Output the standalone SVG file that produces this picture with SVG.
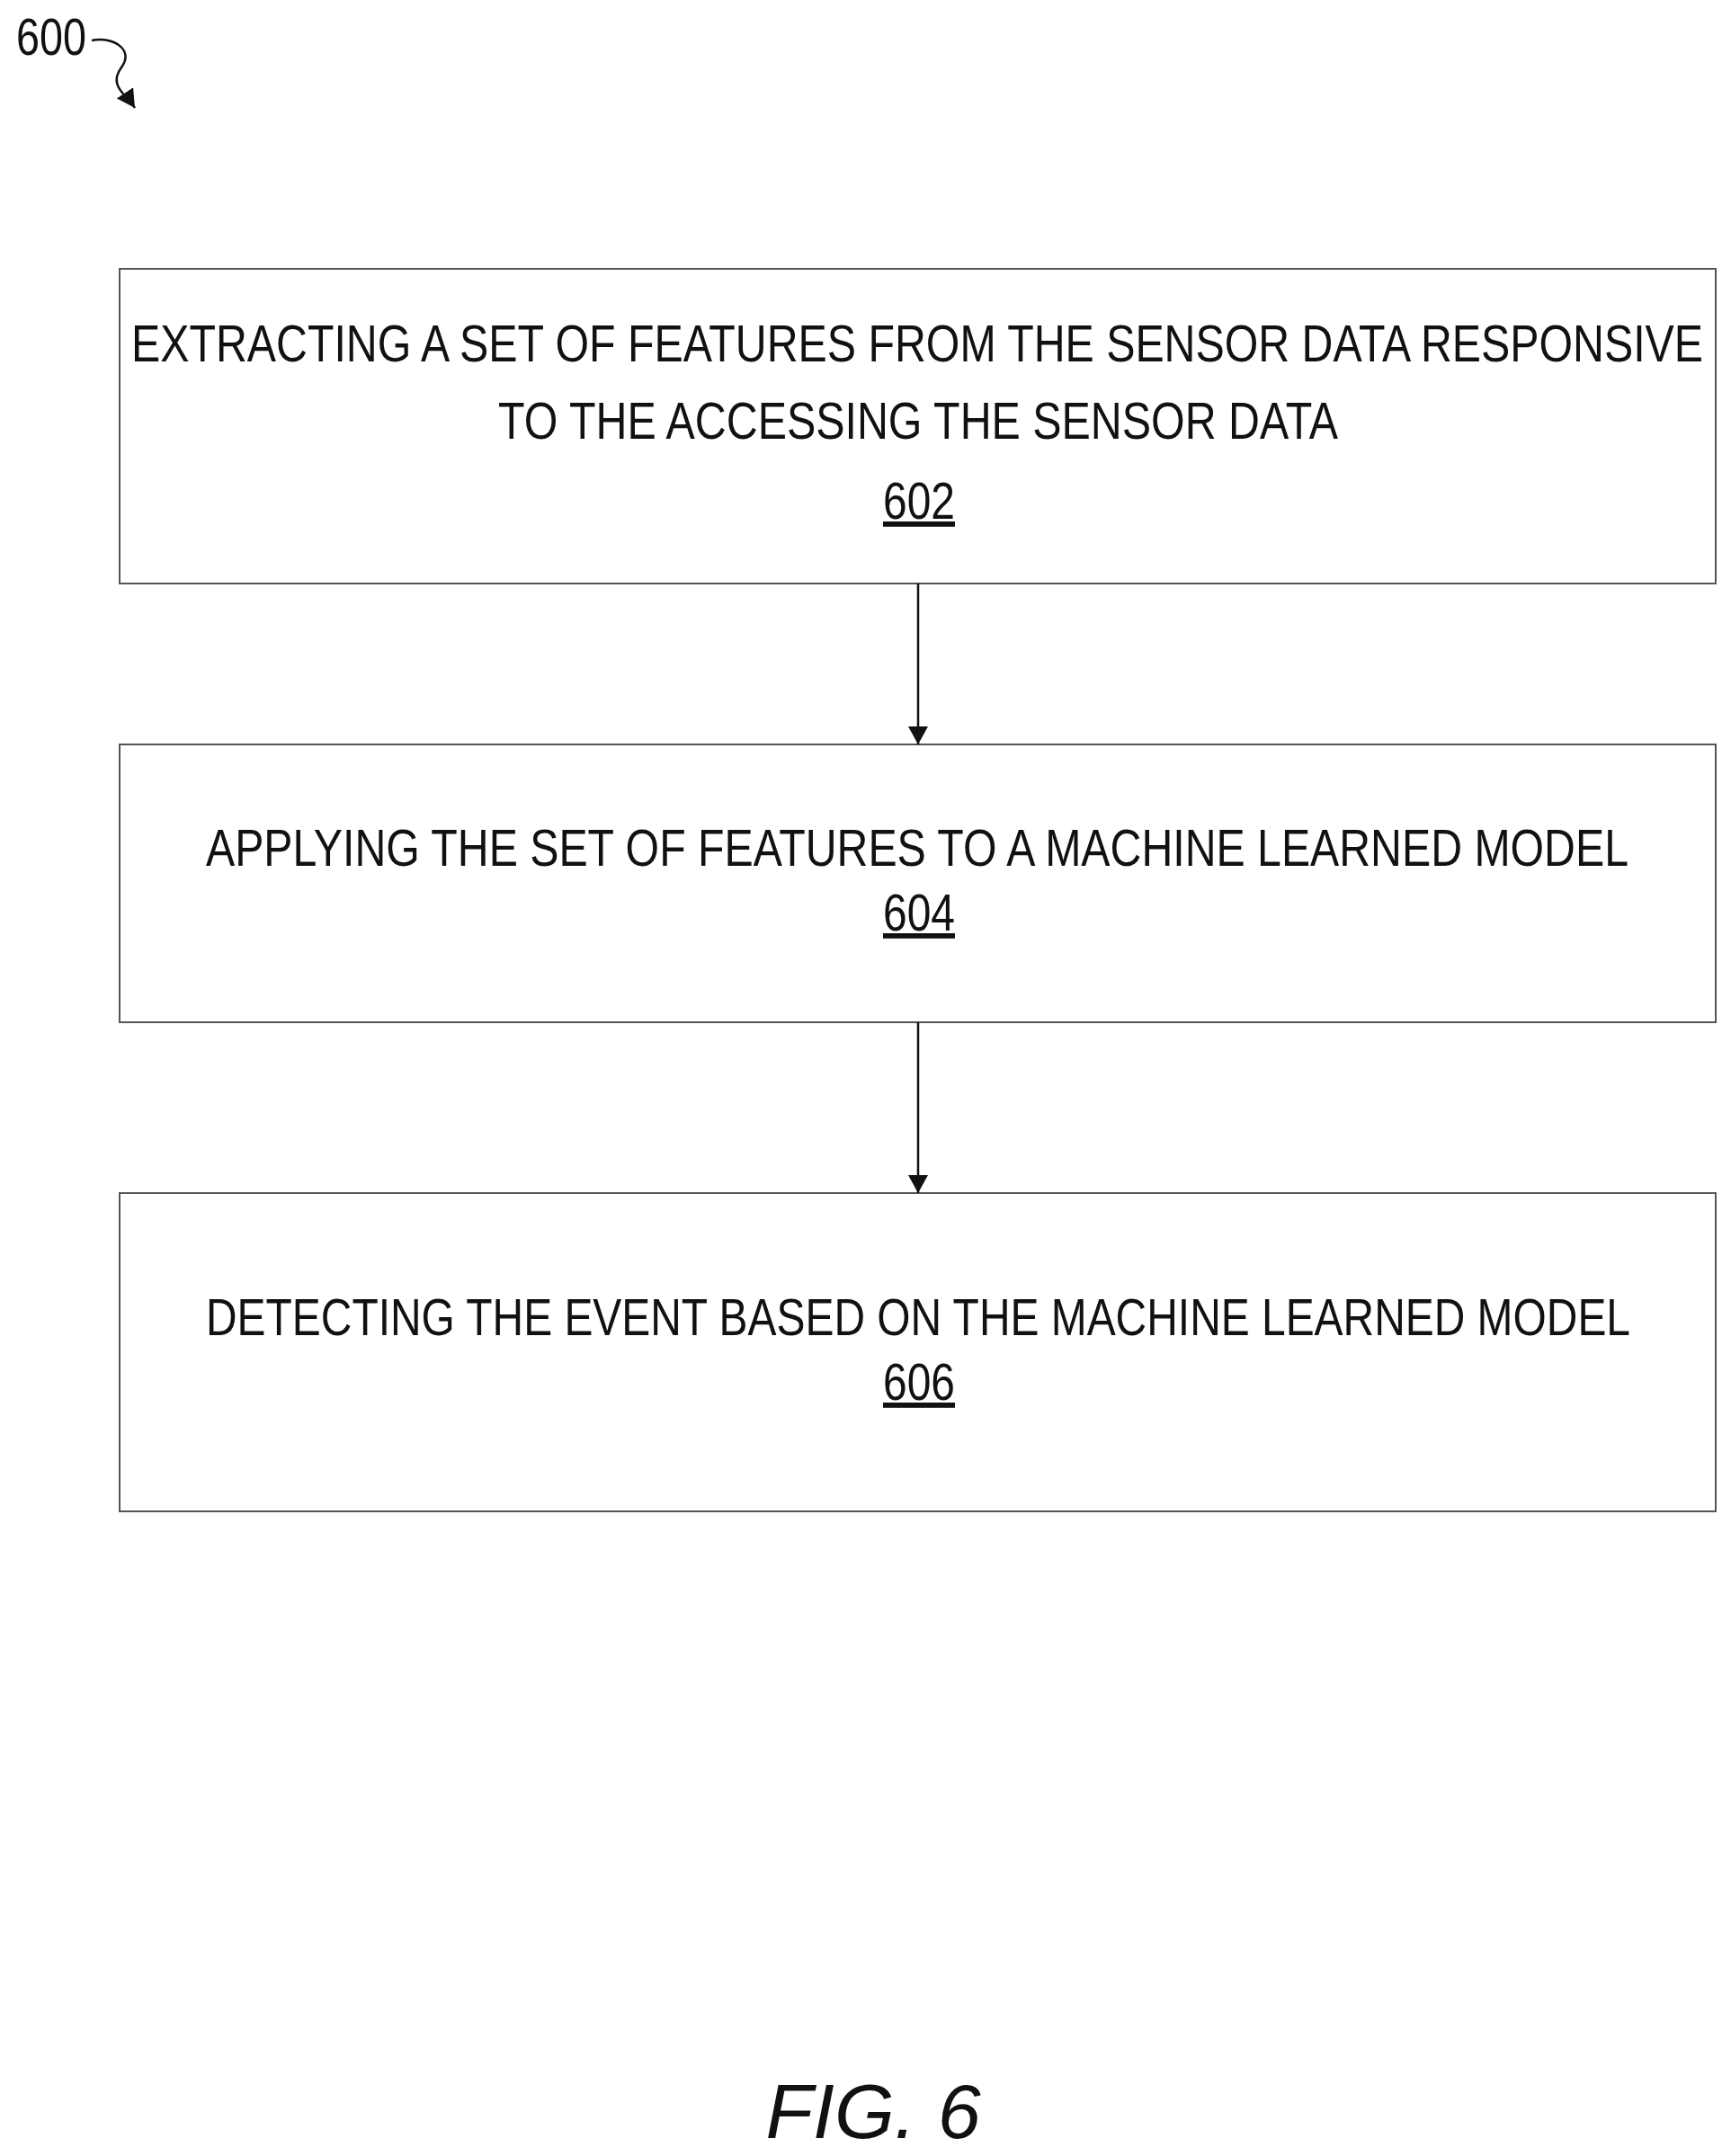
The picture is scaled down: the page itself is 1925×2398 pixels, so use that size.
<svg xmlns="http://www.w3.org/2000/svg" width="1925" height="2398" viewBox="0 0 1925 2398">
<style>
.box{fill:#fff;stroke:#555;stroke-width:2}
.t{font-family:"Liberation Sans",Arial,sans-serif;font-size:58px;fill:#111}
.n{font-family:"Liberation Sans",Arial,sans-serif;font-size:58px;fill:#111;text-decoration:underline}
.c{stroke:#111;stroke-width:2.5;fill:none}
</style>
<defs><marker id="a" markerWidth="20" markerHeight="22" refX="20" refY="11" orient="auto" markerUnits="userSpaceOnUse"><path d="M0,0 L20,11 L0,22 Z" fill="#111"/></marker></defs>
<rect width="1925" height="2398" fill="#fff"/>
<g id="label600">
<text class="t" x="18" y="61" textLength="78" lengthAdjust="spacingAndGlyphs">600</text>
<path class="c" d="M102,45 C125,40 150,55 135,75 C120,95 140,105 150,120" marker-end="url(#a)"/>
</g>
<g id="n602">
<rect class="box" x="133" y="299" width="1775" height="350"/>
<text class="t" x="146" y="402" textLength="1748" lengthAdjust="spacingAndGlyphs">EXTRACTING A SET OF FEATURES FROM THE SENSOR DATA RESPONSIVE</text>
<text class="t" x="554" y="488" textLength="934" lengthAdjust="spacingAndGlyphs">TO THE ACCESSING THE SENSOR DATA</text>
<text class="n" x="982" y="577" textLength="80" lengthAdjust="spacingAndGlyphs">602</text>
</g>
<g id="n604">
<rect class="box" x="133" y="828" width="1775" height="309"/>
<text class="t" x="229" y="963" textLength="1582" lengthAdjust="spacingAndGlyphs">APPLYING THE SET OF FEATURES TO A MACHINE LEARNED MODEL</text>
<text class="n" x="982" y="1035" textLength="80" lengthAdjust="spacingAndGlyphs">604</text>
</g>
<g id="n606">
<rect class="box" x="133" y="1327" width="1775" height="354"/>
<text class="t" x="229" y="1485" textLength="1584" lengthAdjust="spacingAndGlyphs">DETECTING THE EVENT BASED ON THE MACHINE LEARNED MODEL</text>
<text class="n" x="982" y="1557" textLength="80" lengthAdjust="spacingAndGlyphs">606</text>
</g>
<g id="connectors">
<line class="c" x1="1021" y1="649" x2="1021" y2="828" marker-end="url(#a)"/>
<line class="c" x1="1021" y1="1137" x2="1021" y2="1327" marker-end="url(#a)"/>
</g>
<text x="971" y="2378" text-anchor="middle" style="font-family:'Liberation Sans',Arial,sans-serif;font-size:86px;font-style:italic;fill:#111">FIG. 6</text>
</svg>
